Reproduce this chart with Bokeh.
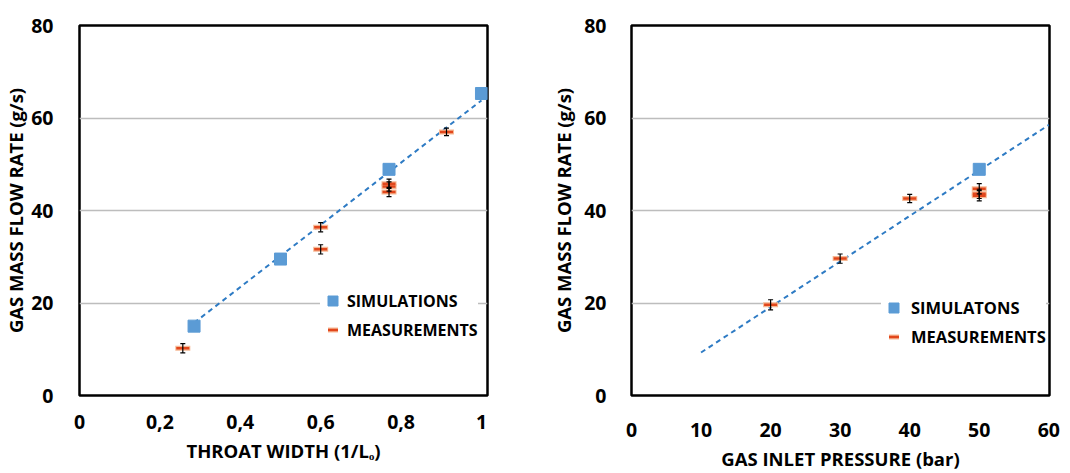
from bokeh.plotting import figure
from bokeh.layouts import row
from bokeh.models import Range1d, Legend, LegendItem
from bokeh.embed import file_html
from bokeh.resources import INLINE

# ---------------- data: left chart ----------------
throat_ticks = [0, 0.2, 0.4, 0.6, 0.8, 1]
throat_tick_labels = ["0", "0,2", "0,4", "0,6", "0,8", "1"]
flow_ticks = [0, 20, 40, 60, 80]

sim1_x = [0.285, 0.5, 0.77, 1.0]
sim1_y = [15.0, 29.5, 48.9, 65.3]
meas1_x = [0.257, 0.6, 0.6, 0.77, 0.77, 0.77, 0.913]
meas1_y = [10.2, 36.4, 31.6, 45.8, 45.2, 44.0, 57.0]
meas1_err = [1.0, 1.0, 1.0, 1.0, 1.0, 1.0, 0.8]
trend1_x = [0.285, 1.0]
trend1_y = [15.7, 63.8]

# ---------------- data: right chart ----------------
pressure_ticks = [0, 10, 20, 30, 40, 50, 60]
pressure_tick_labels = ["0", "10", "20", "30", "40", "50", "60"]
sim2_x = [50]
sim2_y = [48.9]
meas2_x = [20, 30, 40, 50, 50, 50]
meas2_y = [19.6, 29.6, 42.6, 44.7, 43.6, 43.2]
meas2_err = [1.1, 1.0, 0.9, 1.1, 1.0, 1.1]
trend2_x = [10, 60]
trend2_y = [9.3, 58.5]

FONT = "Open Sans"
SIM_COLOR = "#5B9BD5"
TREND_COLOR = "#2E7BC4"
MEAS_CORE = "#E2471C"
MEAS_HALO = "#F6B894"


def make_chart(width, x_range, xticks, xlabels, xlabel, sim_x, sim_y, sim_label,
               mx, my, merr, tx, ty, borders, legend_loc, legend_pad, font_px,
               standoff_label, x_standoff, y_standoff, xl_standoff, yl_standoff):
    bl, br, bt, bb = borders
    p = figure(width=width, height=473, x_range=x_range, y_range=Range1d(0, 80),
               output_backend="svg", toolbar_location=None,
               min_border_left=bl, min_border_right=br,
               min_border_top=bt, min_border_bottom=bb)
    p.outline_line_color = "black"
    p.outline_line_width = 2.5
    p.xgrid.visible = False
    p.ygrid.grid_line_color = "#BDBDBD"
    p.ygrid.grid_line_width = 1.5

    p.xaxis.ticker = xticks
    p.xaxis.major_label_overrides = {t: l for t, l in zip(xticks, xlabels)}
    p.yaxis.ticker = flow_ticks
    for ax in (p.xaxis[0], p.yaxis[0]):
        ax.axis_line_color = None
        ax.major_tick_line_color = None
        ax.minor_tick_line_color = None
        ax.major_label_text_font = FONT
        ax.major_label_text_font_style = "bold"
        ax.major_label_text_font_size = "19.5px"
        ax.major_label_text_color = "black"
        ax.axis_label_text_font = FONT
        ax.axis_label_text_font_style = "bold"
        ax.axis_label_text_font_size = "18.5px"
        ax.axis_label_text_color = "black"
    p.xaxis.axis_label = xlabel
    p.yaxis.axis_label = "GAS MASS FLOW RATE (g/s)"
    p.xaxis.major_label_standoff = x_standoff
    p.yaxis.major_label_standoff = y_standoff
    p.xaxis.axis_label_standoff = xl_standoff
    p.yaxis.axis_label_standoff = yl_standoff

    # trend line
    p.line(tx, ty, line_color=TREND_COLOR, line_width=2, line_dash="5 4")
    # simulations
    sim = p.scatter(sim_x, sim_y, marker="square", size=12, fill_color=SIM_COLOR,
                    line_color=SIM_COLOR)
    # measurements
    halo = p.scatter(mx, my, marker="dash", size=15, line_color=MEAS_HALO, line_width=5)
    core = p.scatter(mx, my, marker="dash", size=13, line_color=MEAS_CORE, line_width=2.5)
    lo = [y - e for y, e in zip(my, merr)]
    hi = [y + e for y, e in zip(my, merr)]
    p.segment(mx, lo, mx, hi, line_color="black", line_width=1.2)
    p.scatter(mx, lo, marker="dash", size=5, line_color="black", line_width=1.2)
    p.scatter(mx, hi, marker="dash", size=5, line_color="black", line_width=1.2)

    legend = Legend(items=[LegendItem(label=sim_label, renderers=[sim]),
                           LegendItem(label="MEASUREMENTS", renderers=[halo, core])],
                    location=legend_loc, padding=legend_pad, spacing=4,
                    glyph_width=25, glyph_height=25, label_standoff=standoff_label,
                    label_text_font=FONT, label_text_font_style="bold",
                    label_text_font_size=font_px, label_text_color="black",
                    background_fill_color="white", background_fill_alpha=1.0,
                    border_line_color=None, margin=0)
    p.add_layout(legend, "center")
    return p


p1 = make_chart(540, Range1d(0, 1.015), throat_ticks, throat_tick_labels,
                "THROAT WIDTH (1/L\u2092)", sim1_x, sim1_y, "SIMULATIONS",
                meas1_x, meas1_y, meas1_err, trend1_x, trend1_y,
                (77, 53, 25, 77), (241, 53), 7, "16px", 2, 13, 20, 6, 0)
p2 = make_chart(530, Range1d(0, 60.1), pressure_ticks, pressure_tick_labels,
                "GAS INLET PRESSURE (bar)", sim2_x, sim2_y, "SIMULATONS",
                meas2_x, meas2_y, meas2_err, trend2_x, trend2_y,
                (91, 21, 19, 74), (250, 46), 8, "16.5px", 5, 21, 19, 6, 5)

layout = row(p1, p2)
open("out.html", "w").write(file_html(layout, INLINE))
